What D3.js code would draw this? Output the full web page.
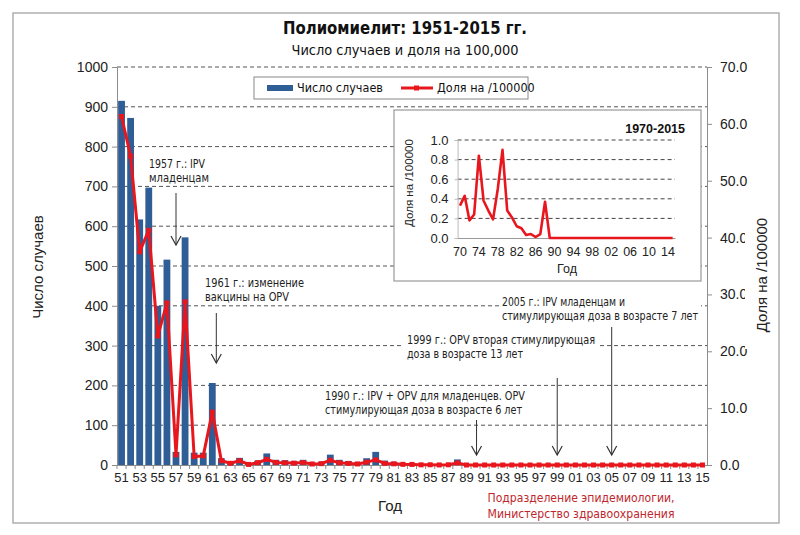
<!DOCTYPE html>
<html><head><meta charset="utf-8">
<script src="https://cdn.jsdelivr.net/npm/d3@7"></script>
<style>
body{margin:0;background:#fff}
svg{display:block}
.ax text{font-family:"Liberation Sans",Arial,sans-serif;fill:#222}
</style>
</head><body>
<svg id="c" width="800" height="535"></svg>
<script>
// ---------- DATA ----------
const years = [1951,1952,1953,1954,1955,1956,1957,1958,1959,1960,1961,1962,1963,1964,1965,1966,1967,1968,1969,1970,
  1971,1972,1973,1974,1975,1976,1977,1978,1979,1980,1981,1982,1983,1984,1985,1986,1987,1988,1989,1990,
  1991,1992,1993,1994,1995,1996,1997,1998,1999,2000,2001,2002,2003,2004,2005,2006,2007,2008,2009,2010,
  2011,2012,2013,2014,2015];
const cases = [915,872,617,697,400,516,33,572,31,31,206,17,7,18,3,11,29,13,12,10,
  13,6,8,26,13,10,7,17,33,11,8,5,4,1,2,0,2,14,0,0,
  0,0,0,0,0,0,0,0,0,0,0,0,0,0,0,0,0,0,0,0,
  0,0,0,0,0];
const rate = [61.3,54.3,37.5,41.3,22.7,28.5,1.8,28.7,1.5,1.6,9.3,0.75,0.3,0.75,0.1,0.4,1.0,0.45,0.4,0.33,
  0.43,0.18,0.24,0.84,0.38,0.28,0.19,0.5,0.9,0.28,0.21,0.12,0.10,0.03,0.04,0.01,0.04,0.37,0,0,
  0,0,0,0,0,0,0,0,0,0,0,0,0,0,0,0,0,0,0,0,
  0,0,0,0,0];
const leftTicks = [0,100,200,300,400,500,600,700,800,900,1000];
const rightTicks = [0,10,20,30,40,50,60,70];
const xTickYears = [1951,1953,1955,1957,1959,1961,1963,1965,1967,1969,1971,1973,1975,1977,1979,1981,1983,1985,1987,1989,
  1991,1993,1995,1997,1999,2001,2003,2005,2007,2009,2011,2013,2015];
const insetYTicks = [0,0.2,0.4,0.6,0.8,1.0];
const insetXTicks = [1970,1974,1978,1982,1986,1990,1994,1998,2002,2006,2010,2014];
const title = "Полиомиелит: 1951-2015 гг.";
const subtitle = "Число случаев и доля на 100,000";
const seriesNames = ["Число случаев","Доля на /100000"];
const notes = [
  {year:1957, lines:["1957 г.: IPV","младенцам"]},
  {year:1961, lines:["1961 г.: изменение","вакцины на OPV"]},
  {year:1990, lines:["1990 г.: IPV + OPV для младенцев. OPV","стимулирующая доза в возрасте 6 лет"]},
  {year:1999, lines:["1999 г.: OPV вторая стимулирующая","доза в возрасте 13 лет"]},
  {year:2005, lines:["2005 г.: IPV младенцам и","стимулирующая доза в возрасте 7 лет"]}
];
const footer = ["Подразделение эпидемиологии,","Министерство здравоохранения"];

// ---------- DRAW ----------
const NARROW = '"Liberation Sans Narrow","DejaVu Sans Condensed","Open Sans",sans-serif';
const ARIAL = '"Liberation Sans",Arial,sans-serif';
const BLUE = "#2f5d96", RED = "#e8161d";
const svg = d3.select("#c");

svg.append("rect").attr("x",13).attr("y",13).attr("width",766).attr("height",510)
  .attr("fill","#fff").attr("stroke","#b0b0b0").attr("stroke-width",1.5);

const L = 117, R = 707, T = 67, B = 465;
const x = d3.scaleBand().domain(years).range([L,R]).paddingInner(0.25).paddingOuter(0.125);
const yL = d3.scaleLinear().domain([0,1000]).range([B,T]);
const yR = d3.scaleLinear().domain([0,70]).range([B,T]);
const cx = d => x(d) + x.bandwidth()/2;

// gridlines
svg.append("g").selectAll("line").data(leftTicks.filter(d=>d>0)).join("line")
  .attr("x1",L).attr("x2",R).attr("y1",d=>yL(d)).attr("y2",d=>yL(d))
  .attr("stroke","#555").attr("stroke-dasharray","4,3").attr("stroke-width",1);

// titles
svg.append("text").attr("x",405).attr("y",34).attr("text-anchor","middle")
  .attr("font-family",NARROW).attr("font-weight","bold").attr("font-size",18.5).attr("fill","#111")
  .attr("textLength",244).attr("lengthAdjust","spacingAndGlyphs").text(title);
svg.append("text").attr("x",405).attr("y",55).attr("text-anchor","middle")
  .attr("font-family",NARROW).attr("font-size",14).attr("fill","#111")
  .attr("textLength",227).attr("lengthAdjust","spacingAndGlyphs").text(subtitle);

// bars
svg.append("g").selectAll("rect").data(years).join("rect")
  .attr("x",d=>x(d)).attr("width",x.bandwidth())
  .attr("y",(d,i)=>yL(cases[i])).attr("height",(d,i)=>B-yL(cases[i]))
  .attr("fill",BLUE);

// axes
const gl = svg.append("g").attr("class","ax").attr("transform",`translate(${L},0)`)
  .call(d3.axisLeft(yL).tickValues(leftTicks).tickSize(5).tickPadding(4).tickFormat(d3.format("d")));
const gr = svg.append("g").attr("class","ax").attr("transform",`translate(${R},0)`)
  .call(d3.axisRight(yR).tickValues(rightTicks).tickSize(5).tickPadding(8).tickFormat(d3.format(".1f")));
[gl,gr].forEach(g=>{
  g.selectAll("path,line").attr("stroke","#8c8c8c");
  g.selectAll("text").attr("font-size",14).attr("font-family",ARIAL);
});
const gb = svg.append("g").attr("class","ax").attr("transform",`translate(0,${B})`)
  .call(d3.axisBottom(x).tickValues(xTickYears).tickSize(0).tickPadding(8).tickFormat(d=>String(d%100).padStart(2,"0")));
gb.select("path").attr("stroke","#8c8c8c");
gb.selectAll("text").attr("font-size",13).attr("font-family",ARIAL);
// category boundary ticks
svg.append("g").selectAll("line").data(years).join("line")
  .attr("x1",d=>x(d)-x.step()*x.paddingInner()/2).attr("x2",d=>x(d)-x.step()*x.paddingInner()/2)
  .attr("y1",B).attr("y2",B+4).attr("stroke","#8c8c8c");

// rate line
const line = d3.line().x((d,i)=>cx(years[i])).y(d=>yR(d));
svg.append("path").datum(rate).attr("d",line).attr("fill","none")
  .attr("stroke",RED).attr("stroke-width",3).attr("stroke-linejoin","round");
svg.append("g").selectAll("rect").data(rate).join("rect")
  .attr("x",(d,i)=>cx(years[i])-2.5).attr("y",d=>yR(d)-2.5).attr("width",5).attr("height",5)
  .attr("fill",RED);

// axis titles
svg.append("text").attr("transform","translate(43,267) rotate(-90)").attr("text-anchor","middle")
  .attr("font-family",ARIAL).attr("font-size",15).attr("fill","#222").text(seriesNames[0]);
svg.append("rect").attr("x",745).attr("y",222).attr("width",30).attr("height",127).attr("fill","#fff");
svg.append("text").attr("transform","translate(767,275) rotate(-90)").attr("text-anchor","middle")
  .attr("font-family",ARIAL).attr("font-size",15).attr("fill","#222").text(seriesNames[1]);
svg.append("text").attr("x",390).attr("y",511).attr("text-anchor","middle")
  .attr("font-family",ARIAL).attr("font-size",15).attr("fill","#222").text("Год");

// legend
const lg = svg.append("g");
lg.append("rect").attr("x",254).attr("y",77).attr("width",274).attr("height",22)
  .attr("fill","#fff").attr("stroke","#888");
lg.append("rect").attr("x",267).attr("y",85).attr("width",26).attr("height",6).attr("fill",BLUE);
lg.append("text").attr("x",297).attr("y",92).attr("font-family",NARROW).attr("font-size",12.5).attr("fill","#111").text(seriesNames[0]);
lg.append("line").attr("x1",401).attr("x2",433).attr("y1",88).attr("y2",88).attr("stroke",RED).attr("stroke-width",3);
lg.append("rect").attr("x",414).attr("y",85.5).attr("width",5).attr("height",5).attr("fill",RED);
lg.append("text").attr("x",437).attr("y",92).attr("font-family",NARROW).attr("font-size",12.5).attr("fill","#111").text(seriesNames[1]);

// annotations (layout)
const noteLayout = {
  1957:{x:149,y:[168,182],w:[56,60],bg:false,dx:0,a0:193,a1:245},
  1961:{x:205,y:[287,301],w:[99,84],bg:false,dx:4,a0:313,a1:363},
  1990:{x:325,y:[400,414],w:[200,197],bg:true,dx:1,a0:420,a1:455},
  1999:{x:407,y:[344,358],w:[188,116],bg:true,dx:0,a0:378,a1:455},
  2005:{x:502,y:[306,320],w:[123,196],bg:true,dx:0,a0:327,a1:455}
};
const ng = svg.append("g");
notes.forEach(n=>{
  const s = noteLayout[n.year];
  if(s.bg){
    ng.append("rect").attr("x",s.x-3).attr("y",s.y[0]-11).attr("width",d3.max(s.w)+6).attr("height",s.y[1]-s.y[0]+15).attr("fill","#fff");
  }
  n.lines.forEach((t,j)=>{
    ng.append("text").attr("x",s.x).attr("y",s.y[j]).attr("font-family",NARROW).attr("font-size",11.5)
      .attr("fill","#222").attr("textLength",s.w[j]).attr("lengthAdjust","spacingAndGlyphs").text(t);
  });
  const ax = cx(n.year)+s.dx;
  ng.append("line").attr("x1",ax).attr("x2",ax).attr("y1",s.a0).attr("y2",s.a1).attr("stroke","#333").attr("stroke-width",1);
  ng.append("path").attr("d",`M${ax-5},${s.a1-9}L${ax},${s.a1}L${ax+5},${s.a1-9}`).attr("fill","none").attr("stroke","#333").attr("stroke-width",1.2);
});

// footer
footer.forEach((t,j)=>{
  svg.append("text").attr("x",581).attr("y",502+j*16).attr("text-anchor","middle")
    .attr("font-family",NARROW).attr("font-size",13).attr("fill","#c0272d")
    .attr("textLength",187).attr("lengthAdjust","spacingAndGlyphs").text(t);
});

// ---------- INSET ----------
const inYears = years.slice(19), inRate = rate.slice(19);
const ig = svg.append("g");
ig.append("rect").attr("x",394).attr("y",110).attr("width",307).attr("height",171)
  .attr("fill","#fff").attr("stroke","#999").attr("stroke-width",1.2);
const ix = d3.scaleBand().domain(inYears).range([457.6,675]);
const iy = d3.scaleLinear().domain([0,1]).range([238,140]);
ig.append("g").selectAll("line").data(insetYTicks.filter(d=>d>0)).join("line")
  .attr("x1",457.6).attr("x2",675).attr("y1",d=>iy(d)).attr("y2",d=>iy(d))
  .attr("stroke","#444").attr("stroke-dasharray","4,3");
const iyA = ig.append("g").attr("class","ax").attr("transform","translate(457.6,0)")
  .call(d3.axisLeft(iy).tickValues(insetYTicks).tickSize(3).tickPadding(6).tickFormat(d3.format(".1f")));
iyA.selectAll("path,line").attr("stroke","#bbb");
iyA.selectAll("text").attr("font-size",13).attr("font-family",ARIAL);
const ixA = ig.append("g").attr("class","ax").attr("transform","translate(0,238)")
  .call(d3.axisBottom(ix).tickValues(insetXTicks).tickSize(0).tickPadding(9).tickFormat(d=>String(d%100).padStart(2,"0")));
ixA.select("path").attr("stroke","#999");
ixA.selectAll("text").attr("font-size",12.5).attr("font-family",ARIAL);
ig.append("path").datum(inRate).attr("fill","none").attr("stroke",RED).attr("stroke-width",2.6)
  .attr("stroke-linejoin","round")
  .attr("d",d3.line().x((d,i)=>ix(inYears[i])+ix.bandwidth()/2).y(d=>iy(d)));
ig.append("text").attr("x",685).attr("y",133).attr("text-anchor","end").attr("font-family",ARIAL)
  .attr("font-weight","bold").attr("font-size",12.5).attr("fill","#111").text("1970-2015");
ig.append("text").attr("transform","translate(413,183) rotate(-90)").attr("text-anchor","middle")
  .attr("font-family",ARIAL).attr("font-size",11.5).attr("fill","#222").text(seriesNames[1]);
ig.append("text").attr("x",567).attr("y",273).attr("text-anchor","middle")
  .attr("font-family",ARIAL).attr("font-size",12.5).attr("fill","#222").text("Год");
</script>
</body></html>
